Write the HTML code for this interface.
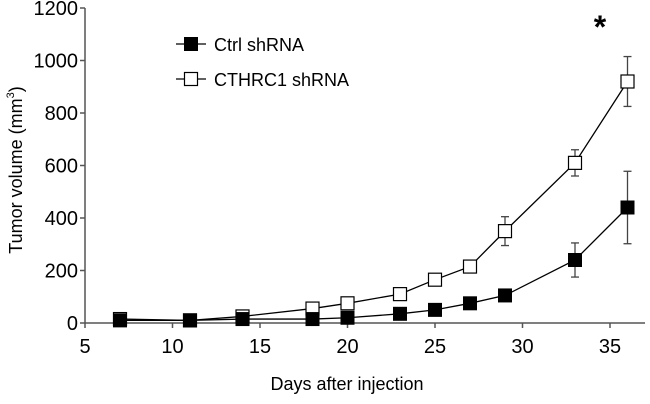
<!DOCTYPE html>
<html><head><meta charset="utf-8"><style>
html,body{margin:0;padding:0;background:#fff;}
svg{display:block;font-family:"Liberation Sans",Arial,sans-serif;}
</style></head><body>
<svg id="chart" width="650" height="404">
<g id="axes"></g>
<g id="series"></g>
<g>
 <g>
  <line x1="176" y1="44" x2="206" y2="44" stroke="#000" stroke-width="1.3"/>
  <rect x="184" y="37" width="14" height="14" fill="#000"/>
  <text x="214" y="51" font-size="18">Ctrl shRNA</text>
 </g>
 <g>
  <line x1="176" y1="79" x2="206" y2="79" stroke="#000" stroke-width="1.3"/>
  <rect x="184.5" y="72.5" width="13" height="13" fill="#fff" stroke="#000" stroke-width="1.2"/>
  <text x="214" y="86" font-size="18">CTHRC1 shRNA</text>
 </g>
</g>
<text x="600" y="38" font-size="32" font-weight="bold" text-anchor="middle">*</text>
<text x="347" y="390" font-size="18" text-anchor="middle">Days after injection</text>
<text transform="translate(22,170) rotate(-90)" font-size="18" text-anchor="middle">Tumor volume (mm<tspan font-size="11" dy="-8">3</tspan><tspan dy="8">)</tspan></text>
</svg>
<script>
const xTicks=[5,10,15,20,25,30,35];
const yTicks=[0,200,400,600,800,1000,1200];
const days=[7,11,14,18,20,23,25,27,29,33,36];
const ctrl=[10,10,15,15,20,35,50,75,105,240,440];
const ctrlErr=[0,0,0,0,0,0,0,0,0,65,138];
const cthrc1=[15,10,25,55,75,110,165,215,350,610,920];
const cthrc1Err=[0,0,0,0,0,0,0,0,55,50,95];
const NS='http://www.w3.org/2000/svg';
const x=d=>85+(d-5)*17.5;
const y=v=>323-v*315/1200;
function mk(tag,attrs,parent){const e=document.createElementNS(NS,tag);for(const k in attrs)e.setAttribute(k,attrs[k]);parent.appendChild(e);return e;}
const ax=document.getElementById('axes');
let e=mk('line',{x1:85,y1:y(1200),x2:85,y2:323,stroke:'#555','stroke-width':1.5},ax);


e=mk('line',{x1:85,y1:323,x2:645,y2:323,stroke:'#555','stroke-width':1.5},ax);


yTicks.forEach(t=>{
 mk('line',{x1:80,y1:y(t),x2:85,y2:y(t),stroke:'#555','stroke-width':1.5},ax);
 const tx=mk('text',{x:78,y:y(t)+7,'font-size':20,'text-anchor':'end'},ax);tx.textContent=t;
 
 
});
xTicks.forEach(t=>{
 mk('line',{x1:x(t),y1:323,x2:x(t),y2:328,stroke:'#555','stroke-width':1.5},ax);
 const tx=mk('text',{x:x(t),y:353,'font-size':20,'text-anchor':'middle'},ax);tx.textContent=t;
 
 
});
const sg=document.getElementById('series');
function series(vals,errs,filled,name){
 const g=mk('g',{},sg);
 
 
 vals.forEach((v,i)=>{if(errs[i]>0){
  mk('line',{x1:x(days[i]),y1:y(v+errs[i]),x2:x(days[i]),y2:y(v-errs[i]),stroke:'#444','stroke-width':1.3},g);
  mk('line',{x1:x(days[i])-4,y1:y(v+errs[i]),x2:x(days[i])+4,y2:y(v+errs[i]),stroke:'#444','stroke-width':1.3},g);
  mk('line',{x1:x(days[i])-4,y1:y(v-errs[i]),x2:x(days[i])+4,y2:y(v-errs[i]),stroke:'#444','stroke-width':1.3},g);
 }});
 mk('polyline',{points:vals.map((v,i)=>x(days[i])+','+y(v)).join(' '),fill:'none',stroke:'#000','stroke-width':1.3},g);
 vals.forEach((v,i)=>{
  const r=filled?mk('rect',{x:x(days[i])-7,y:y(v)-7,width:14,height:14,fill:'#000'},g)
   :mk('rect',{x:x(days[i])-6.5,y:y(v)-6.5,width:13,height:13,fill:'#fff',stroke:'#000','stroke-width':1.2},g);
  
  
 });
}
series(cthrc1,cthrc1Err,false,'series-cthrc1-shrna');
series(ctrl,ctrlErr,true,'series-ctrl-shrna');
</script>
</body></html>
